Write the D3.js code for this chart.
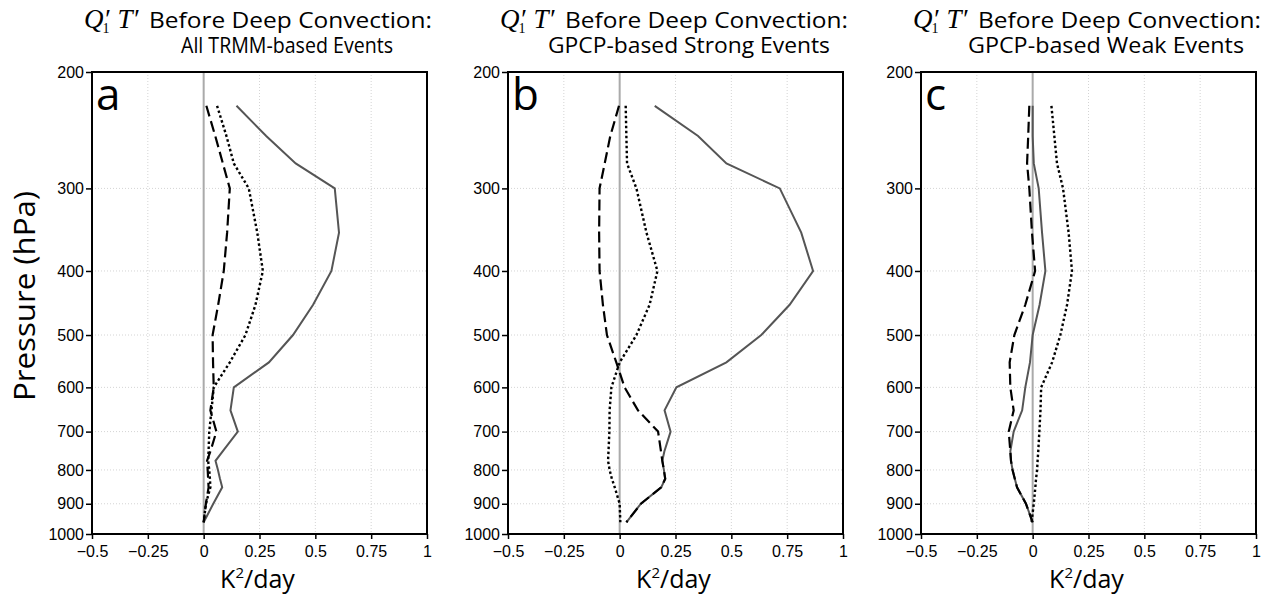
<!DOCTYPE html>
<html>
<head>
<meta charset="utf-8">
<script src="https://cdn.jsdelivr.net/npm/d3@7"></script>
<style>
  body { margin: 0; background: #fff; }
  svg { display: block; }
</style>
</head>
<body>
<svg id="chart" width="1264" height="596"></svg>
<script>
'use strict';

// Pressure levels (hPa) of the profiles
var levels = [225, 250, 275, 300, 350, 400, 450, 500, 550, 600, 650, 700, 750, 775, 800, 825, 850, 900, 960];

// Panel a: all TRMM-based events
var aSolid  = [0.147, 0.28, 0.412, 0.587, 0.606, 0.572, 0.49, 0.40, 0.292, 0.135, 0.12, 0.153, 0.085, 0.053, 0.064, 0.073, 0.083, 0.043, 0];
var aDashed = [0.012, 0.052, 0.086, 0.117, 0.105, 0.09, 0.065, 0.04, 0.042, 0.045, 0.03, 0.057, 0.03, 0.015, 0.018, 0.02, 0.022, 0.01, 0];
var aDotted = [0.06, 0.102, 0.135, 0.202, 0.24, 0.265, 0.232, 0.187, 0.117, 0.045, 0.035, 0.025, 0.022, 0.02, 0.025, 0.028, 0.03, 0.01, 0];

// Panel b: GPCP-based strong events
var bSolid  = [0.157, 0.351, 0.478, 0.717, 0.813, 0.866, 0.761, 0.634, 0.478, 0.254, 0.201, 0.228, 0.2, 0.191, 0.198, 0.204, 0.186, 0.095, 0.03];
var bDashed = [-0.003, -0.042, -0.067, -0.09, -0.092, -0.09, -0.075, -0.057, -0.015, 0.022, 0.082, 0.172, 0.185, 0.191, 0.198, 0.204, 0.186, 0.095, 0.03];
var bDotted = [0.027, 0.03, 0.033, 0.075, 0.12, 0.169, 0.134, 0.075, 0.0, -0.037, -0.045, -0.046, -0.05, -0.052, -0.045, -0.035, -0.022, 0, 0.003];

// Panel c: GPCP-based weak events
var cSolid  = [0, 0, 0.005, 0.027, 0.042, 0.057, 0.031, 0, -0.012, -0.033, -0.047, -0.085, -0.1, -0.097, -0.09, -0.08, -0.07, -0.03, 0];
var cDashed = [-0.015, -0.02, -0.025, -0.015, -0.003, 0.011, -0.033, -0.082, -0.103, -0.1, -0.085, -0.107, -0.1, -0.097, -0.09, -0.08, -0.07, -0.03, 0];
var cDotted = [0.084, 0.097, 0.109, 0.136, 0.161, 0.176, 0.154, 0.124, 0.087, 0.038, 0.035, 0.03, 0.025, 0.022, 0.02, 0.015, 0.012, 0.005, -0.005];

var panelLetters = ['a', 'b', 'c'];
var subtitles = ['All TRMM-based Events', 'GPCP-based Strong Events', 'GPCP-based Weak Events'];

var xTicks = [-0.5, -0.25, 0, 0.25, 0.5, 0.75, 1];
var yTicks = [200, 300, 400, 500, 600, 700, 800, 900, 1000];


// Layout
var panelLeft = [92, 508, 921],
    panelWidth = 335,
    plotTop = 72,
    plotBottom = 534,
    subStart = [89, 40, 47],    // second title line, relative to panel left
    subWidth = [212, 282, 276];

var TITLE_FONT = '"Open Sans", Lato, sans-serif',
    SERIF_FONT = '"Liberation Serif", "DejaVu Serif", serif',
    TICK_FONT = '"Liberation Sans", Arial, sans-serif';

var svg = d3.select('#chart');

var y = d3.scaleLog().domain([200, 1000]).range([plotTop, plotBottom]);

function fmtX(d) {
    return d === 0 ? '0' : (d < 0 ? '\u2212' + (-d) : String(d));
}

function drawPanel(i, series) {
    var x0 = panelLeft[i];
    var x = d3.scaleLinear().domain([-0.5, 1]).range([x0, x0 + panelWidth]);
    var g = svg.append('g');
    var cx = x0 + panelWidth / 2;

    // dotted grid
    g.selectAll('.vgrid')
        .data(xTicks.filter(function (d) { return d !== -0.5 && d !== 0 && d !== 1; }))
        .enter().append('line')
        .attr('x1', function (d) { return x(d); })
        .attr('x2', function (d) { return x(d); })
        .attr('y1', plotTop).attr('y2', plotBottom)
        .attr('stroke', '#d4d4d4').attr('stroke-width', 1)
        .attr('stroke-dasharray', '1,2');

    g.selectAll('.hgrid')
        .data(yTicks.slice(1, -1))
        .enter().append('line')
        .attr('x1', x0).attr('x2', x0 + panelWidth)
        .attr('y1', function (d) { return y(d); })
        .attr('y2', function (d) { return y(d); })
        .attr('stroke', '#d4d4d4').attr('stroke-width', 1)
        .attr('stroke-dasharray', '1,2');

    // zero line
    g.append('line')
        .attr('x1', x(0)).attr('x2', x(0))
        .attr('y1', plotTop).attr('y2', plotBottom)
        .attr('stroke', '#aaaaaa').attr('stroke-width', 2);

    // profiles
    var line = d3.line()
        .x(function (d) { return x(d[1]); })
        .y(function (d) { return y(d[0]); });

    var styles = [
        { stroke: '#555555', width: 2, dash: null },
        { stroke: '#000000', width: 2.2, dash: '11,5' },
        { stroke: '#000000', width: 2.4, dash: '2.5,2.5' }
    ];

    series.forEach(function (vals, k) {
        g.append('path')
            .datum(levels.map(function (p, j) { return [p, vals[j]]; }))
            .attr('d', line)
            .attr('fill', 'none')
            .attr('stroke', styles[k].stroke)
            .attr('stroke-width', styles[k].width)
            .attr('stroke-dasharray', styles[k].dash);
    });

    // axes
    var xAxis = d3.axisBottom(x).tickValues(xTicks).tickFormat(fmtX).tickSize(5).tickSizeOuter(0);
    var yAxis = d3.axisLeft(y).tickValues(yTicks).tickFormat(d3.format('d')).tickSize(6).tickSizeOuter(0);

    var gx = g.append('g').attr('transform', 'translate(0,' + plotBottom + ')').call(xAxis);
    var gy = g.append('g').attr('transform', 'translate(' + x0 + ',0)').call(yAxis);

    [gx, gy].forEach(function (ax) {
        ax.select('.domain').remove();
        ax.selectAll('line').attr('stroke', '#000').attr('stroke-width', 1.5);
        ax.selectAll('text')
            .attr('fill', '#000')
            .style('font-family', TICK_FONT)
            .style('font-size', '16px');
    });
    gx.selectAll('text').attr('dy', '0.95em');
    gy.selectAll('text').attr('x', -8);

    // frame
    g.append('rect')
        .attr('x', x0).attr('y', plotTop)
        .attr('width', panelWidth).attr('height', plotBottom - plotTop)
        .attr('fill', 'none')
        .attr('stroke', '#000').attr('stroke-width', 2);

    // panel letter
    g.append('text')
        .attr('x', x0 + 4).attr('y', plotTop + 38)
        .style('font-family', TITLE_FONT)
        .style('font-size', '44px')
        .text(panelLetters[i]);

    // title line 1: Q'_1 T' part in serif italic
    var q = g.append('text')
        .attr('x', x0 - 8).attr('y', 28)
        .style('font-family', SERIF_FONT)
        .style('font-size', '27px');
    q.append('tspan').style('font-style', 'italic').text('Q\u2032');
    q.append('tspan').style('font-size', '14px').attr('dy', 5).attr('dx', -7).text('1');
    q.append('tspan').style('font-style', 'italic').attr('dy', -5).attr('dx', 8).text('T\u2032');

    g.append('text')
        .attr('x', x0 + 57).attr('y', 28)
        .attr('textLength', 283).attr('lengthAdjust', 'spacingAndGlyphs')
        .style('font-family', TITLE_FONT)
        .style('font-size', '21px')
        .text('Before Deep Convection:');

    // title line 2
    g.append('text')
        .attr('x', x0 + subStart[i]).attr('y', 53)
        .attr('textLength', subWidth[i]).attr('lengthAdjust', 'spacingAndGlyphs')
        .style('font-family', TITLE_FONT)
        .style('font-size', '21px')
        .text(subtitles[i]);

    // x label
    var xl = g.append('text')
        .attr('x', cx - 2).attr('y', 588)
        .attr('text-anchor', 'middle')
        .style('font-family', TITLE_FONT)
        .style('font-size', '25px');
    xl.append('tspan').text('K');
    xl.append('tspan').attr('dy', -10).style('font-size', '15px').text('2');
    xl.append('tspan').attr('dy', 10).text('/day');
}

drawPanel(0, [aSolid, aDashed, aDotted]);
drawPanel(1, [bSolid, bDashed, bDotted]);
drawPanel(2, [cSolid, cDashed, cDotted]);

// y label
svg.append('text')
    .attr('transform', 'translate(35,296) rotate(-90)')
    .attr('text-anchor', 'middle')
    .attr('textLength', 210).attr('lengthAdjust', 'spacingAndGlyphs')
    .style('font-family', TITLE_FONT)
    .style('font-size', '29px')
    .text('Pressure (hPa)');
</script>
</body>
</html>
